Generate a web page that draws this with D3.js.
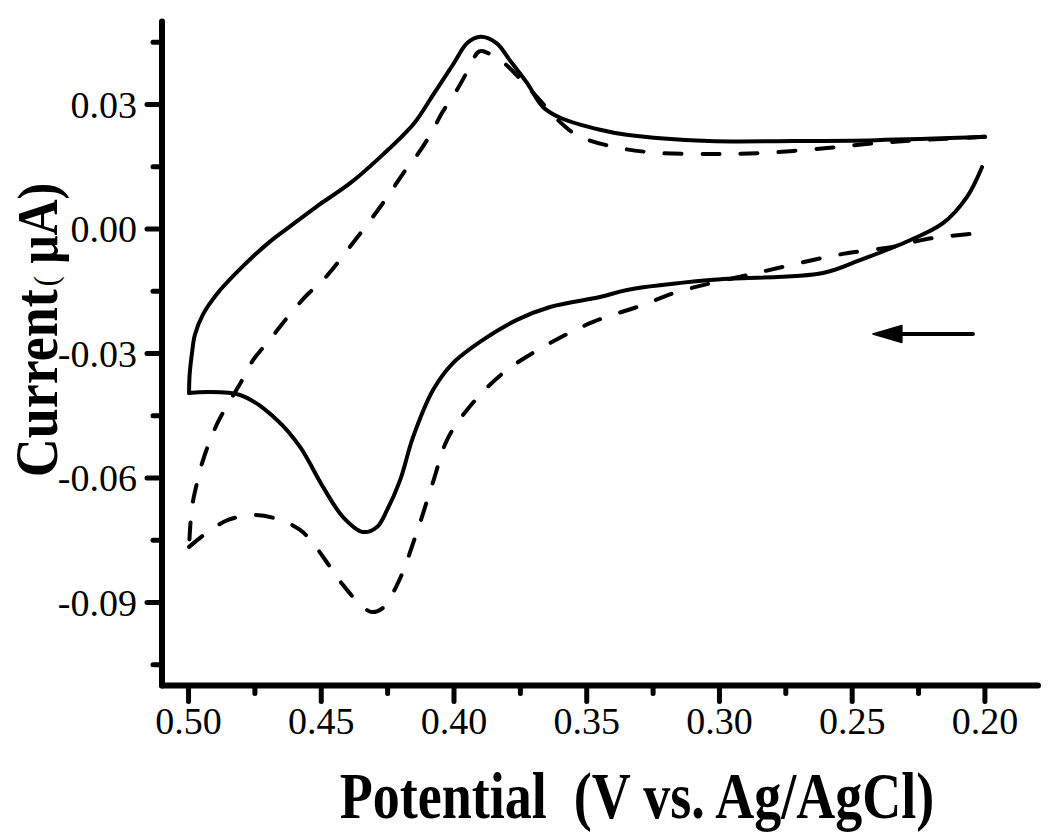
<!DOCTYPE html>
<html><head><meta charset="utf-8">
<script src="https://cdn.jsdelivr.net/npm/d3@7"></script>
<style>body{margin:0;background:#fff} svg{display:block} text{white-space:pre}</style>
</head><body>
<svg id="chart" width="1050" height="834"></svg>
<script>
// ---- data ----
const xTicks = [0.50, 0.45, 0.40, 0.35, 0.30, 0.25, 0.20];
const xTickLabels = ["0.50", "0.45", "0.40", "0.35", "0.30", "0.25", "0.20"];
const xMinorTicks = [0.475, 0.425, 0.375, 0.325, 0.275, 0.225];
const yTicks = [-0.09, -0.06, -0.03, 0.00, 0.03];
const yTickLabels = ["-0.09", "-0.06", "-0.03", "0.00", "0.03"];
const yMinorTicks = [-0.105, -0.075, -0.045, -0.015, 0.015, 0.045];
const xTitle = "Potential  (V vs. Ag/AgCl)";
const yTitleMain = "Current";
const yTitleParen = "(";
const yTitleUnit = " \u03BCA)";

// solid CV: upper branch (0.20 -> 0.50), then lower branch (0.50 -> 0.20)
const solidUpper = [
  [0.200, 0.0222], [0.241, 0.0214], [0.272, 0.0212], [0.304, 0.0212], [0.335, 0.0227],
  [0.345, 0.0239], [0.360, 0.0268], [0.3665, 0.0294], [0.3725, 0.0352], [0.379, 0.0407],
  [0.384, 0.0448], [0.390, 0.0463], [0.395, 0.0448], [0.400, 0.0400], [0.408, 0.0322],
  [0.415, 0.0255], [0.427, 0.0178], [0.439, 0.0111], [0.452, 0.0053], [0.462, 0.0005],
  [0.470, -0.0034], [0.481, -0.0099], [0.489, -0.0154], [0.4945, -0.0205], [0.4976, -0.0255],
  [0.4987, -0.0299], [0.4996, -0.0352], [0.4998, -0.0395]
];
const solidLower = [
  [0.4998, -0.0395], [0.4806, -0.0400], [0.4667, -0.0460], [0.4580, -0.0525], [0.4493, -0.0622],
  [0.4418, -0.0694], [0.4343, -0.0730], [0.4290, -0.0718], [0.4252, -0.0677], [0.4203, -0.0605],
  [0.4154, -0.0501], [0.4079, -0.0388], [0.4004, -0.0323], [0.3891, -0.0267], [0.3763, -0.0219],
  [0.3638, -0.0188], [0.3450, -0.0164], [0.3348, -0.0147], [0.3036, -0.0123], [0.2610, -0.0106],
  [0.2471, -0.0075], [0.2282, -0.0027], [0.2158, 0.0014], [0.2068, 0.0077], [0.2011, 0.0149]
];
// dashed CV
const dashedUpper = [
  [0.200, 0.0222], [0.2245, 0.0214], [0.2407, 0.0207], [0.2595, 0.0195], [0.2847, 0.0183],
  [0.3036, 0.0181], [0.3224, 0.0183], [0.3375, 0.0195], [0.3525, 0.0222], [0.3589, 0.0251],
  [0.3702, 0.0328], [0.3815, 0.0402], [0.3872, 0.0424], [0.3905, 0.0428], [0.3951, 0.0378],
  [0.3989, 0.0335], [0.4045, 0.0280], [0.4083, 0.0234], [0.4139, 0.0178], [0.4177, 0.0147],
  [0.4267, 0.0063], [0.4392, -0.0043], [0.4493, -0.0123], [0.4554, -0.0159], [0.4629, -0.0214],
  [0.4689, -0.0263], [0.4757, -0.0316], [0.4798, -0.0364], [0.4847, -0.0417], [0.4889, -0.0465],
  [0.4923, -0.0516], [0.4949, -0.0564], [0.4972, -0.0622], [0.4987, -0.0670], [0.4994, -0.0720],
  [0.4998, -0.0766]
];
const dashedLower = [
  [0.4998, -0.0766], [0.4927, -0.0730], [0.4851, -0.0701], [0.4749, -0.0689], [0.4655, -0.0701],
  [0.4580, -0.0725], [0.4535, -0.0754], [0.4467, -0.0814], [0.4418, -0.0858], [0.4354, -0.0904],
  [0.4309, -0.0923], [0.4264, -0.0911], [0.4215, -0.0858], [0.4185, -0.0814], [0.4154, -0.0757],
  [0.4128, -0.0708], [0.4079, -0.0610], [0.4026, -0.0508], [0.3951, -0.0436], [0.3815, -0.0347],
  [0.3638, -0.0275], [0.3476, -0.0224], [0.3288, -0.0183], [0.3160, -0.0152], [0.2847, -0.0104],
  [0.2535, -0.0060], [0.2347, -0.0043], [0.2218, -0.0024], [0.2030, -0.0010], [0.200, -0.0007]
];
const arrowTail = [0.2045, -0.0253];
const arrowTip = [0.2422, -0.0253];

// ---- drawing ----
const svg = d3.select("#chart");
const x = d3.scaleLinear().domain([0.51, 0.18]).range([162, 1038]);
const y = d3.scaleLinear().domain([-0.11, 0.05]).range([685.5, 21.5]);
const font = "'Liberation Serif','Times New Roman',Times,serif";

const line = d3.line().x(d => x(d[0])).y(d => y(d[1])).curve(d3.curveCatmullRom.alpha(0.5));

const g = svg.append("g");
[solidUpper, solidLower].forEach(s => {
  g.append("path").attr("d", line(s)).attr("fill", "none").attr("stroke", "#000")
    .attr("stroke-width", 4).attr("stroke-linejoin", "round").attr("stroke-linecap", "round");
});
[dashedUpper, dashedLower].forEach(s => {
  g.append("path").attr("d", line(s)).attr("fill", "none").attr("stroke", "#000")
    .attr("stroke-width", 4).attr("stroke-dasharray", "17 21").attr("stroke-linecap", "round");
});

// axes lines
const x0 = x.range()[0], x1 = x.range()[1];
const yB = y.range()[0], yT = y.range()[1];
svg.append("line").attr("x1", x0).attr("x2", x0).attr("y1", yT).attr("y2", yB)
  .attr("stroke", "#000").attr("stroke-width", 6).attr("stroke-linecap", "round");
svg.append("line").attr("x1", x0).attr("x2", x1).attr("y1", yB).attr("y2", yB)
  .attr("stroke", "#000").attr("stroke-width", 6).attr("stroke-linecap", "round");

// y ticks
svg.selectAll(".ymaj").data(yTicks).join("line")
  .attr("x1", x0 - 15).attr("x2", x0).attr("y1", d => y(d)).attr("y2", d => y(d))
  .attr("stroke", "#000").attr("stroke-width", 5).attr("stroke-linecap", "round");
svg.selectAll(".ymin").data(yMinorTicks).join("line")
  .attr("x1", x0 - 9).attr("x2", x0).attr("y1", d => y(d)).attr("y2", d => y(d))
  .attr("stroke", "#000").attr("stroke-width", 5).attr("stroke-linecap", "round");
svg.selectAll(".ylab").data(yTicks).join("text")
  .attr("x", 137).attr("y", d => y(d) + 13)
  .attr("text-anchor", "end").attr("font-family", font).attr("font-size", 38)
  .text((d, i) => yTickLabels[i]);

// x ticks
svg.selectAll(".xmaj").data(xTicks).join("line")
  .attr("x1", d => x(d)).attr("x2", d => x(d)).attr("y1", yB).attr("y2", yB + 16)
  .attr("stroke", "#000").attr("stroke-width", 5).attr("stroke-linecap", "round");
svg.selectAll(".xmin").data(xMinorTicks).join("line")
  .attr("x1", d => x(d)).attr("x2", d => x(d)).attr("y1", yB).attr("y2", yB + 8)
  .attr("stroke", "#000").attr("stroke-width", 5).attr("stroke-linecap", "round");
svg.selectAll(".xlab").data(xTicks).join("text")
  .attr("x", d => x(d)).attr("y", 734)
  .attr("text-anchor", "middle").attr("font-family", font).attr("font-size", 38)
  .text((d, i) => xTickLabels[i]);

// titles
svg.append("text").attr("transform", "translate(637,818) scale(1,1.22)")
  .attr("text-anchor", "middle").attr("font-family", font).attr("font-weight", "bold")
  .attr("font-size", 54).text(xTitle);

const yt = svg.append("text").attr("transform", "translate(57,330) rotate(-90) scale(1,1.15)")
  .attr("text-anchor", "middle").attr("font-family", font).attr("font-weight", "bold")
  .attr("font-size", 54);
yt.append("tspan").text(yTitleMain);
yt.append("tspan").attr("font-size", 30).attr("font-weight", "normal").attr("dx", 3).text(yTitleParen);
yt.append("tspan").attr("font-size", 50).text(yTitleUnit);

// arrow
const ax0 = x(arrowTail[0]), ax1 = x(arrowTip[0]), ay = y(arrowTip[1]);
svg.append("line").attr("x1", ax0).attr("x2", ax1 + 20).attr("y1", ay).attr("y2", ay)
  .attr("stroke", "#000").attr("stroke-width", 4).attr("stroke-linecap", "round");
svg.append("path")
  .attr("d", `M${ax1},${ay} L${ax1 + 29},${ay - 8.5} L${ax1 + 29},${ay + 8.5} Z`)
  .attr("fill", "#000").attr("stroke", "#000").attr("stroke-width", 1.5).attr("stroke-linejoin", "round");
</script>
</body></html>
